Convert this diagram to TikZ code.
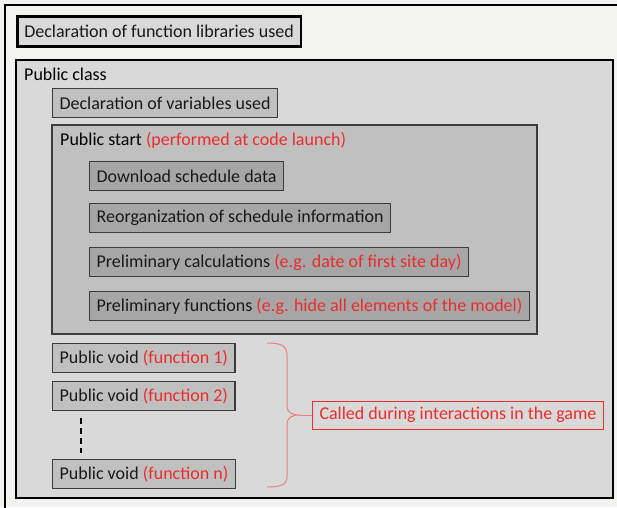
\documentclass[tikz,border=0pt]{standalone}
\usepackage{fontspec}
\setmainfont{Carlito}

\definecolor{pagegray}{RGB}{243,243,241}
\definecolor{classgray}{RGB}{217,217,217}
\definecolor{startgray}{RGB}{192,192,192}
\definecolor{innergray}{RGB}{166,166,166}
\definecolor{linegray}{RGB}{60,60,60}
\definecolor{notered}{RGB}{236,45,45}
\definecolor{bracered}{RGB}{240,125,125}

\tikzset{
	codebox/.style={draw=linegray, line width=1.2pt, fill=startgray, anchor=north west,
		minimum height=29pt, inner xsep=7pt, inner ysep=0pt, text=black!90},
	subbox/.style={codebox, fill=innergray},
	mainbox/.style={codebox, draw=black, line width=2.5pt, fill=classgray, minimum height=30pt},
	note/.style={text=notered},
}
\newcommand{\red}[1]{{\color{notered}#1}}

\begin{document}
\begin{tikzpicture}[x=1pt, y=-1pt, font=\fontsize{18}{21}\selectfont]
	\useasboundingbox (0,0) rectangle (617,507);
	\fill[pagegray] (0,0) rectangle (617,507);

	% outer frame, runs off the picture at right and bottom
	\draw[line width=2.5pt] (5,540) -- (5,5) -- (660,5);

	% libraries
	\node[mainbox] (libs) at (16,15) {Declaration of function libraries used};

	% public class container
	\draw[line width=2.5pt, fill=classgray] (16,60) rectangle (613,498);
	\node[anchor=west, inner sep=0pt] (cls) at (24,74) {Public class};
	\node[codebox] (vars) at (52,88) {Declaration of variables used};

	% public start container
	\draw[draw=linegray, line width=1.2pt, fill=startgray] (52,125) rectangle (537,334);
	\node[anchor=west, inner sep=0pt] (start) at (60,140) {Public start \red{(performed at code launch)}};
	\node[subbox] (download) at (89,161) {Download schedule data};
	\node[subbox] (reorg) at (89,203) {Reorganization of schedule information};
	\node[subbox] (calc) at (89,247) {Preliminary calculations \red{(e.g. date of first site day)}};
	\node[subbox] (funcs) at (89,291) {Preliminary functions \red{(e.g. hide all elements of the model)}};

	% public voids
	\node[codebox] (void1) at (52,343) {Public void \red{(function 1)}};
	\node[codebox] (void2) at (52,381) {Public void \red{(function 2)}};
	\node[codebox] (voidn) at (52,459) {Public void \red{(function n)}};
	\draw[line width=1.3pt, dash pattern=on 6pt off 4pt, shorten <=7pt, shorten >=6pt]
		([xshift=29pt]void2.south west) -- ([xshift=29pt]voidn.north west);

	% brace to the note
	\coordinate (bracetop) at (267,343);
	\coordinate (bracebot) at (267,487);
	\coordinate (bracetip) at (300,415);
	\draw[bracered, line width=1pt]
		(bracetop) .. controls (280,343) and (287,345) .. (287,355) -- (287,405)
		.. controls (287,413) and (292,415) .. (bracetip)
		.. controls (292,415) and (287,417) .. (287,425) -- (287,477)
		.. controls (287,485) and (280,487) .. (bracebot);
	\node[draw=notered, line width=1pt, anchor=west, minimum height=28pt, inner xsep=7pt, inner ysep=0pt, note] (called) at (312,415) {Called during interactions in the game};
	\draw[bracered, line width=1pt] (bracetip) -- (called.west);

\end{tikzpicture}
\end{document}
